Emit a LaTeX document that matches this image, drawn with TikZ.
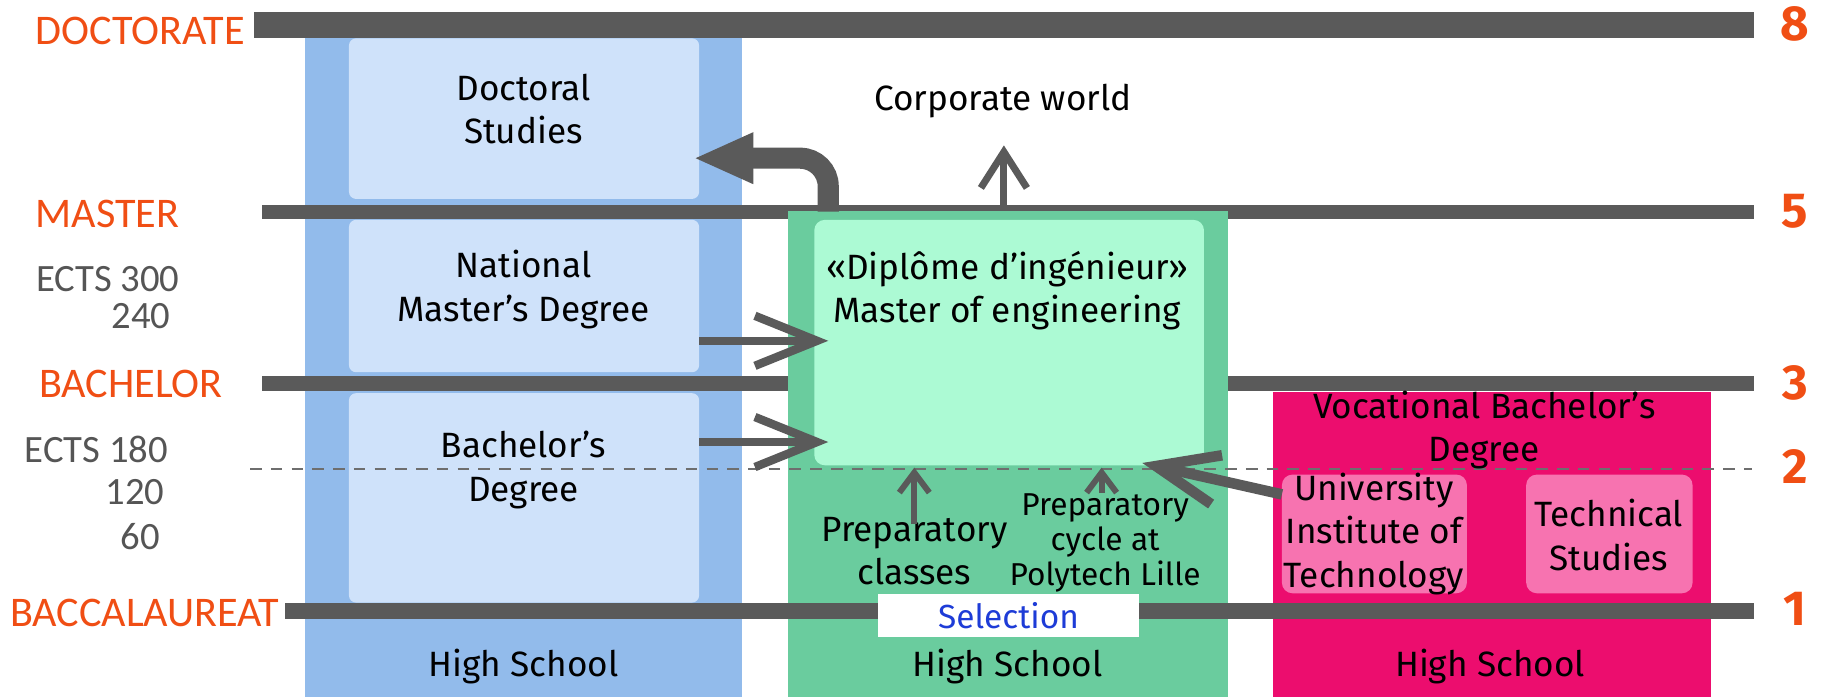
\documentclass[tikz,border=0pt]{standalone}
\usepackage{fontspec}
\setmainfont{Fira Sans}
\newfontfamily\condfont{Carlito}
\usetikzlibrary{positioning}
\usetikzlibrary{arrows.meta}
\newcommand{\pxu}{0.011633cm}

\begin{document}
\begin{tikzpicture}[
        x=0.011633cm, y=-0.011633cm,
        every node/.style={inner sep=0pt, align=center},
        bar/.style={fill=bargray},
        level/.style={anchor=west, text=lvlorange, font=\condfont\fontsize{12}{12}\selectfont},
        ects/.style={anchor=east, text=ectsgray, font=\condfont\fontsize{11}{11}\selectfont},
        num/.style={text=lvlorange, font=\bfseries\fontsize{14}{14}\selectfont},
        lbl/.style={font=\fontsize{10}{12.3}\selectfont},
        smalllbl/.style={font=\fontsize{9}{10}\selectfont},
        bluebox/.style={fill=blueinner, rounded corners=2pt, minimum width=301*\pxu},
        pinkbox/.style={fill=pinkinner, rounded corners=3pt, minimum height=102*\pxu},
        bigarrow/.style={draw=bargray, line width=6pt, -{Triangle[length=0.6cm, width=0.47cm]}},
        barbarrow/.style={draw=bargray, line width=2.4pt, -{Straight Barb[length=0.62cm, width=0.5cm]}},
        uparrow/.style={draw=bargray, line width=2pt, -{Straight Barb[length=0.36cm, width=0.46cm]}},
        smallarrow/.style={draw=bargray, line width=1.7pt, -{Straight Barb[length=0.2cm, width=0.3cm]}},
        dashline/.style={draw=dashgray, line width=0.45pt, dash pattern=on 3.3pt off 2.6pt},
    ]
        \definecolor{bargray}{RGB}{90,90,90}
        \definecolor{lvlorange}{RGB}{240,78,20}
        \definecolor{ectsgray}{RGB}{85,85,85}
        \definecolor{bluecol}{RGB}{146,187,235}
        \definecolor{blueinner}{RGB}{207,226,250}
        \definecolor{greencol}{RGB}{106,204,158}
        \definecolor{greeninner}{RGB}{172,250,212}
        \definecolor{pinkcol}{RGB}{236,13,110}
        \definecolor{pinkinner}{RGB}{247,115,176}
        \definecolor{selblue}{RGB}{30,60,215}
        \definecolor{dashgray}{RGB}{110,110,110}

        \useasboundingbox (0,0) rectangle (1568,599);

        % University column
        \fill[bluecol] (262,33) rectangle (638,599);
        \node[bluebox, minimum height=138*\pxu] (doct) at (450.5,102) {};
        \node[bluebox, minimum height=131*\pxu] (natm) at (450.5,254.5) {};
        \node[bluebox, minimum height=180*\pxu] (bach) at (450.5,428) {};

        % Levels
        \fill[bar] (218,10) rectangle (1508,33);
        \fill[bar] (225,176) rectangle (1508,188);
        \fill[bar] (225,323) rectangle (1508,336);

        % Engineering school column
        \fill[greencol] (677,181) rectangle (1056,599);
        \node[fill=greeninner, rounded corners=3pt, minimum width=335*\pxu, minimum height=211*\pxu] (ing) at (867.5,294.5) {};

        % Vocational column
        \fill[pinkcol] (1094,337) rectangle (1471,599);
        \node[pinkbox, minimum width=159*\pxu] (iut) at (1181.5,459) {};
        \node[pinkbox, minimum width=143*\pxu] (tech) at (1383.5,459) {};

        \fill[bar] (245,518) rectangle (1508,532);
        \node[fill=white, minimum width=225*\pxu, minimum height=37*\pxu, text=selblue, font=\fontsize{9.5}{11}\selectfont] (sel) at (867,529) {Selection};

        \draw[dashline] (215,403) -- (1506,403);

        % Level labels
        \node[level] (doctorate) at (30,27) {DOCTORATE};
        \node[level] (master) at (30,184) {MASTER};
        \node[level] (bachelor) at (33,330) {BACHELOR};
        \node[level] (bacc) at (8,527) {BACCALAUREAT};
        \node[ects] (e300) at (155,240) {ECTS 300};
        \node[ects] (e240) at (147,272) {240};
        \node[ects] (e180) at (145,386) {ECTS 180};
        \node[ects] (e120) at (142,423) {120};
        \node[ects] (e60) at (138,461) {60};
        \node[num] (n8) at (1543,21) {8};
        \node[num] (n5) at (1543,182) {5};
        \node[num] (n3) at (1543,329) {3};
        \node[num] (n2) at (1543,401) {2};
        \node[num] (n1) at (1543,523) {1};

        % Box texts
        \node[lbl] (doctxt) at (450,94) {Doctoral\\Studies};
        \node[lbl] (natxt) at (450,249) {National\\Master’s Degree};
        \node[lbl] (bachtxt) at (450,404) {Bachelor’s\\Degree};
        \node[lbl] (ingtxt) at (866,250) {«Diplôme d’ingénieur»\\Master of engineering};
        \node[lbl] (corp) at (862,87) {Corporate world};
        \node[lbl] (prep) at (786,474) {Preparatory\\classes};
        \node[smalllbl] (cycle) at (950,467) {Preparatory\\cycle at\\Polytech Lille};
        \node[lbl] (voc) at (1276,370) {Vocational Bachelor’s\\Degree};
        \node[lbl] (iuttxt) at (1181,459) {University\\Institute of\\Technology};
        \node[lbl] (techtxt) at (1383,460) {Technical\\Studies};
        \node[lbl] (hs1) at (450,573) {High School};
        \node[lbl] (hs2) at (866,573) {High School};
        \node[lbl] (hs3) at (1281,573) {High School};

        % Arrows
        \coordinate (ingleft) at (712,182);
        \coordinate (doctin) at (596,136);
        \coordinate (ingtop) at (863,176);
        \coordinate (corpin) at (863,125);
        \coordinate (natout) at (601,293);
        \coordinate (natin) at (712,293);
        \coordinate (bachout) at (601,380);
        \coordinate (bachin) at (712,380);
        \coordinate (prepin) at (786,402);
        \coordinate (cyclein) at (947,402);
        \coordinate (iutout) at (1102,425);
        \coordinate (iutin) at (982,398);

        \draw[bigarrow, rounded corners=8pt] (ingleft) |- (doctin);
        \draw[uparrow] (ingtop) -- (corpin);
        \draw[barbarrow] (natout) -- (natin);
        \draw[barbarrow] (bachout) -- (bachin);
        \draw[smallarrow] ([yshift=-2pt]prep.north) -- (prepin);
        \draw[smallarrow] (cycle.north -| cyclein) -- (cyclein);
        \draw[barbarrow, line width=3pt] (iutout) -- (iutin);
    \end{tikzpicture}
\end{document}
